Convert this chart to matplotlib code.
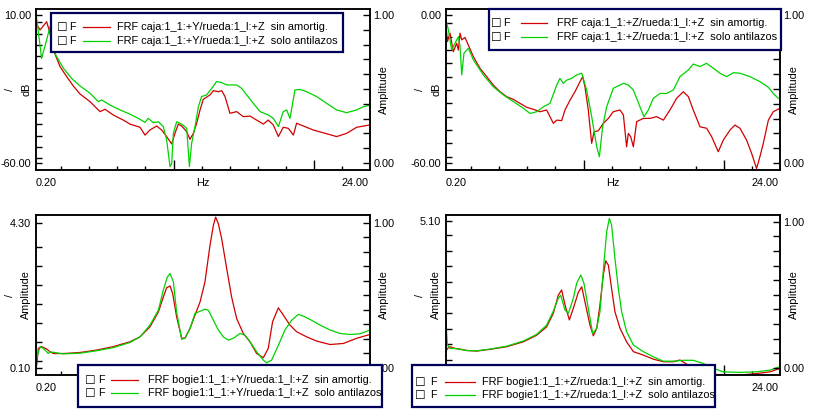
import numpy as np
import matplotlib
matplotlib.use('Agg')
import matplotlib.pyplot as plt
from matplotlib.patches import Rectangle
from matplotlib.lines import Line2D
from matplotlib.ticker import NullFormatter

plt.rcParams['font.family'] = ['Liberation Sans', 'DejaVu Sans']
plt.rcParams['font.size'] = 7.8

W, H = 816, 411
RED = '#d00000'
GREEN = '#00d200'
NAVY = '#00005a'

# ---- data (Hz / value) ----
# top-left: caja +Y, dB
tl_f_red = [0.20, 0.49, 0.96, 1.20, 1.44, 1.91, 2.39, 2.86, 3.34, 4.05, 4.76, 5.12, 5.71, 6.42, 6.90,
            7.61, 7.97, 8.32, 8.80, 9.15, 9.51, 9.87, 10.10, 10.34, 10.58, 10.94, 11.17, 11.41, 11.65,
            11.89, 12.12, 12.60, 12.84, 13.19, 13.43, 13.67, 14.02, 14.50, 14.97, 15.45, 15.92, 16.40,
            16.75, 17.11, 17.47, 17.82, 18.18, 18.54, 18.77, 19.25, 19.96, 20.67, 21.62, 22.33, 23.05, 24.00]
tl_db_red = [6.1, 2.9, 6.8, 1.3, -6.6, -14.4, -19.2, -23.6, -27.4, -31.0, -35.7, -34.6, -37.3, -39.7, -41.6,
             -43.1, -46.8, -44.4, -42.5, -44.4, -47.5, -51.0, -46.0, -41.6, -42.5, -45.2, -48.8, -46.0, -41.2,
             -34.9, -29.9, -27.8, -25.8, -26.3, -25.8, -28.6, -36.5, -35.7, -38.1, -37.8, -39.7, -41.6,
             -39.7, -42.0, -47.5, -43.1, -43.6, -46.8, -41.2, -42.5, -44.4, -45.7, -47.5, -46.0, -43.1, -42.0]
tl_f_green = [0.20, 0.60, 0.96, 1.20, 1.44, 1.67, 2.15, 2.74, 3.34, 4.05, 4.64, 4.88, 5.47, 6.19, 6.90,
              7.61, 7.97, 8.20, 8.56, 8.92, 9.27, 9.51, 9.75, 9.87, 9.99, 10.22, 10.58, 10.94, 11.13, 11.29,
              11.53, 11.77, 12.00, 12.36, 12.72, 13.07, 13.43, 13.79, 14.50, 14.85, 15.21, 15.69, 16.16,
              16.75, 17.11, 17.47, 17.82, 18.06, 18.30, 18.65, 19.01, 19.49, 20.20, 20.91, 21.62, 22.33,
              23.05, 23.52, 24.00]
tl_db_green = [10.8, -10.5, -1.8, 4.5, -6.6, -9.7, -15.2, -20.0, -23.6, -27.0, -31.0, -30.2, -32.6, -34.9, -36.9,
               -39.3, -40.8, -38.9, -40.9, -40.5, -42.8, -49.1, -61.7, -60.2, -46.0, -40.5, -41.6, -43.6, -61.7, -50.7,
               -42.8, -33.4, -28.6, -27.8, -24.7, -21.5, -22.0, -23.1, -23.1, -24.7, -27.8, -31.8, -35.7,
               -37.3, -38.9, -42.8, -35.7, -34.9, -38.9, -25.5, -25.2, -26.3, -28.6, -31.8, -34.9, -36.2,
               -34.9, -33.4, -32.7]

# top-right: caja +Z, dB
tr_f_red = [0.20, 0.30, 0.49, 0.72, 0.96, 1.08, 1.20, 1.32, 1.55, 1.79, 2.15, 2.62, 3.10, 3.57, 4.05, 4.52,
            5.00, 5.47, 5.95, 6.42, 6.90, 7.37, 7.85, 8.09, 8.44, 8.68, 9.04, 9.39, 9.75, 9.94, 10.10, 10.34,
            10.58, 10.75, 11.05, 11.41, 11.77, 12.12, 12.60, 12.84, 13.07, 13.19, 13.36, 13.55, 13.79, 14.26,
            14.74, 15.21, 15.69, 16.16, 16.63, 17.11, 17.47, 17.82, 18.30, 18.77, 19.13, 19.60, 19.96, 20.44,
            20.79, 21.15, 21.62, 21.98, 22.33, 22.57, 22.81, 23.17, 23.52, 24.00]
tr_db_red = [-4.1, -10.8, -7.4, -14.9, -11.5, -14.2, -7.4, -10.1, -9.1, -12.2, -16.9, -21.6, -25.0, -28.4, -31.1, -33.1,
             -34.2, -35.8, -37.4, -38.2, -39.2, -38.5, -43.9, -42.6, -42.8, -38.5, -34.5, -31.1, -27.0, -25.0, -29.1, -38.5,
             -52.0, -47.3, -46.9, -43.9, -41.9, -39.2, -38.5, -40.5, -53.4, -48.0, -49.3, -53.4, -43.2, -41.9,
             -41.9, -41.2, -42.6, -38.5, -33.8, -31.1, -33.1, -38.5, -45.3, -45.9, -49.3, -55.4, -50.7, -46.6,
             -44.6, -45.9, -50.7, -56.1, -62.2, -57.4, -52.0, -42.6, -39.2, -37.8]
tr_f_green = [0.20, 0.37, 0.60, 0.84, 1.08, 1.20, 1.32, 1.48, 1.79, 2.15, 2.86, 3.57, 4.29, 5.00, 5.71, 6.19,
              6.66, 7.14, 7.61, 8.09, 8.32, 8.56, 8.80, 9.15, 9.51, 9.87, 10.22, 10.58, 10.94, 11.13, 11.36,
              11.65, 12.12, 12.60, 12.84, 13.19, 13.55, 14.02, 14.31, 14.62, 14.97, 15.45, 15.92, 16.40, 16.87,
              17.47, 17.82, 18.30, 18.77, 19.25, 19.72, 20.20, 20.67, 21.15, 21.86, 22.57, 23.17, 23.52, 23.88]
tr_db_green = [-2.0, -6.1, -14.2, -11.5, -8.8, -12.8, -24.3, -15.5, -13.5, -18.2, -24.3, -29.1, -32.4, -35.1, -37.8, -39.9,
               -39.2, -37.2, -35.8, -28.4, -25.7, -27.7, -26.4, -25.7, -24.3, -23.6, -30.4, -41.2, -53.4, -57.4, -45.3,
               -37.2, -29.7, -28.4, -27.7, -28.4, -30.4, -37.2, -41.2, -38.5, -33.8, -31.8, -31.8, -30.4, -25.0,
               -22.3, -19.9, -20.9, -19.6, -21.6, -23.6, -25.0, -23.4, -23.6, -25.0, -27.0, -29.3, -31.8, -33.8]

# bottom-left: bogie1 +Y, amplitude
bl_f_red = [0.20, 0.25, 0.37, 0.60, 0.96, 1.20, 1.44, 2.15, 3.34, 4.52, 5.71, 6.90, 7.61, 8.32, 8.92, 9.27,
            9.51, 9.75, 9.94, 10.22, 10.58, 10.82, 11.17, 11.53, 11.89, 12.24, 12.60, 12.84, 13.00, 13.19,
            13.43, 13.79, 14.14, 14.50, 14.97, 15.45, 15.92, 16.40, 16.75, 17.06, 17.47, 17.82, 18.30, 18.77,
            19.49, 20.20, 21.15, 22.10, 23.05, 24.00]
bl_amp_red = [0.09, 0.19, 0.67, 0.72, 0.65, 0.57, 0.52, 0.52, 0.55, 0.62, 0.72, 0.86, 1.00, 1.29, 1.72, 2.15,
              2.42, 2.47, 2.25, 1.58, 0.96, 0.97, 1.24, 1.63, 2.01, 2.59, 3.65, 4.22, 4.46, 4.27,
              3.84, 2.97, 2.15, 1.53, 1.10, 0.86, 0.52, 0.40, 0.67, 1.44, 1.84, 1.63, 1.34, 1.15,
              1.00, 0.88, 0.78, 0.81, 0.96, 1.07]
bl_f_green = [0.20, 0.25, 0.49, 0.72, 1.08, 1.20, 2.15, 3.34, 4.52, 5.71, 6.90, 7.61, 8.32, 8.92, 9.27, 9.56,
              9.75, 9.99, 10.22, 10.58, 10.82, 11.17, 11.53, 11.89, 12.24, 12.48, 12.84, 13.19, 13.55, 13.90,
              14.26, 14.74, 15.09, 15.45, 15.92, 16.40, 16.63, 16.99, 17.47, 17.94, 18.42, 18.89, 19.25, 19.84,
              20.44, 21.15, 21.86, 22.57, 23.29, 24.00]
bl_amp_green = [1.39, 0.38, 0.72, 0.67, 0.52, 0.57, 0.51, 0.53, 0.60, 0.69, 0.84, 1.00, 1.34, 1.77, 2.35, 2.73,
                2.83, 2.59, 1.72, 0.93, 0.96, 1.24, 1.68, 1.74, 1.80, 1.77, 1.48, 1.20, 1.00, 0.91,
                0.96, 1.10, 1.05, 0.86, 0.57, 0.33, 0.25, 0.33, 0.76, 1.20, 1.48, 1.65, 1.60, 1.48,
                1.34, 1.20, 1.10, 1.07, 1.09, 1.20]

# bottom-right: bogie1 +Z, amplitude
br_f_red = [0.20, 0.30, 0.49, 0.84, 1.20, 1.67, 2.39, 3.34, 4.52, 5.71, 6.66, 7.37, 7.85, 8.20, 8.44, 8.68,
            8.99, 9.27, 9.63, 9.87, 10.10, 10.46, 10.70, 10.94, 11.17, 11.41, 11.58, 11.77, 12.00, 12.24,
            12.60, 13.07, 13.55, 14.26, 14.97, 15.69, 16.40, 16.87, 17.47, 17.82, 18.77, 19.96, 21.15, 22.33,
            23.29, 24.00]
br_amp_red = [0.57, 0.68, 0.74, 0.68, 0.66, 0.61, 0.59, 0.65, 0.74, 0.91, 1.14, 1.43, 1.90, 2.53, 2.71, 2.19,
              1.67, 2.07, 2.63, 2.82, 2.30, 1.49, 1.12, 1.38, 2.19, 3.23, 3.72, 3.57, 2.76, 1.95,
              1.38, 0.91, 0.57, 0.45, 0.31, 0.22, 0.22, 0.28, 0.10, -0.13, -0.19, -0.24, -0.24, -0.19,
              -0.13, -0.01]
br_f_green = [0.20, 0.30, 0.49, 0.84, 1.20, 1.67, 2.39, 3.34, 4.52, 5.71, 6.66, 7.37, 7.85, 8.20, 8.37, 8.68,
              8.92, 9.27, 9.51, 9.80, 10.03, 10.34, 10.65, 10.94, 11.17, 11.48, 11.65, 11.84, 12.00, 12.24,
              12.48, 12.72, 13.07, 13.55, 14.26, 14.97, 15.69, 16.40, 17.11, 17.82, 18.54, 19.25, 19.96, 21.15,
              22.33, 23.29, 24.00]
br_amp_green = [1.61, 0.80, 0.68, 0.68, 0.65, 0.61, 0.60, 0.66, 0.76, 0.94, 1.17, 1.49, 1.98, 2.42, 2.53, 2.01,
                1.90, 2.42, 2.94, 3.23, 2.94, 2.07, 1.20, 1.38, 1.95, 3.80, 4.73, 5.19, 4.96, 3.80,
                2.76, 1.95, 1.26, 0.80, 0.57, 0.39, 0.24, 0.24, 0.27, 0.27, 0.16, -0.01, -0.13, -0.15,
                -0.13, -0.07, 0.05]

leg_tl = ['FRF caja:1_1:+Y/rueda:1_l:+Z  sin amortig.', 'FRF caja:1_1:+Y/rueda:1_l:+Z  solo antilazos']
leg_tr = ['FRF caja:1_1:+Z/rueda:1_l:+Z  sin amortig.', 'FRF caja:1_1:+Z/rueda:1_l:+Z  solo antilazos']
leg_bl = ['FRF bogie1:1_1:+Y/rueda:1_l:+Z  sin amortig.', 'FRF bogie1:1_1:+Y/rueda:1_l:+Z  solo antilazos']
leg_br = ['FRF bogie1:1_1:+Z/rueda:1_l:+Z  sin amortig.', 'FRF bogie1:1_1:+Z/rueda:1_l:+Z  solo antilazos']

fig = plt.figure(figsize=(W / 100, H / 100), dpi=100)


def fx(x):
    return x / W


def fy(y):
    return 1 - y / H


def panel(box, red, green, ylim, ends, minor, rlim, unit, xlabels):
    l, t, r, b = box
    ax = fig.add_axes([fx(l), fy(b), (r - l) / W, (b - t) / H])
    ax.plot(red[0], red[1], color=RED, lw=0.9)
    ax.plot(green[0], green[1], color=GREEN, lw=0.9)
    ax.set_xlim(0.2, 24)
    ax.set_ylim(*ylim)
    for s in ax.spines.values():
        s.set_linewidth(1.1)

    ax.set_xticks([10, 20])
    ax.set_xticks([2, 4, 6, 8, 12, 14, 16, 18, 22], minor=True)
    ax.xaxis.set_major_formatter(NullFormatter())
    ax.tick_params(axis='x', which='major', direction='in', length=7, width=1)
    ax.tick_params(axis='x', which='minor', direction='in', length=3, width=1)

    ax.set_yticks(ends)
    ax.set_yticklabels(['%.2f' % v for v in ends])
    ax.set_yticks(minor, minor=True)
    ax.tick_params(axis='y', which='both', direction='in', length=4.3, width=1, pad=3.5)

    ax2 = ax.twinx()
    ax2.set_ylim(*rlim)
    ax2.set_yticks([0, 1])
    ax2.set_yticklabels(['0.00', '1.00'])
    ax2.set_yticks(np.arange(0.1, 0.95, 0.1), minor=True)
    ax2.tick_params(axis='y', which='both', direction='in', length=5, width=1, pad=2.5)
    for s in ax2.spines.values():
        s.set_linewidth(1.1)

    # x labels (the ones hidden by the legend box are left out)
    yl = b + 13
    if '0.20' in xlabels:
        fig.text(fx(l), fy(yl), '0.20', ha='left', va='center')
    if 'Hz' in xlabels:
        fig.text(fx((l + r) / 2), fy(yl), 'Hz', ha='center', va='center')
    if '24.00' in xlabels:
        fig.text(fx(r - 1), fy(yl), '24.00', ha='right', va='center')

    # axis titles
    yc = (t + b) / 2
    fig.text(fx(l - 26), fy(yc), '/', rotation=90, ha='center', va='center')
    fig.text(fx(l - 10), fy(yc), unit, rotation=90, ha='center', va='center')
    fig.text(fx(r + 14), fy(yc), 'Amplitude', rotation=90, ha='center', va='center')
    return ax


def legend(x0, y0, x1, y1, rows, xs, labels):
    fig.add_artist(Rectangle((fx(x0), fy(y1)), (x1 - x0) / W, (y1 - y0) / H,
                             transform=fig.transFigure, facecolor='white',
                             edgecolor=NAVY, lw=1.6, zorder=5))
    chk, fpos, lx0, lx1, tx = xs
    for ry, col, lab in zip(rows, [RED, GREEN], labels):
        fig.text(fx(chk), fy(ry), '\u2610', family=['DejaVu Sans'], fontsize=8.5,
                 ha='left', va='center', zorder=6)
        fig.text(fx(fpos), fy(ry), 'F', ha='left', va='center', zorder=6)
        fig.add_artist(Line2D([fx(lx0), fx(lx1)], [fy(ry), fy(ry)], color=col, lw=0.9,
                              transform=fig.transFigure, zorder=6))
        fig.text(fx(tx), fy(ry), lab, ha='left', va='center', fontsize=7.95, zorder=6)


panel((36, 9, 370, 170), (tl_f_red, tl_db_red), (tl_f_green, tl_db_green),
      (-63.3, 12.8), [-60, 10], np.linspace(-57.8, 6.55, 13), (-0.047, 1.041), 'dB',
      ['0.20', 'Hz', '24.00'])
panel((446, 9, 780, 170), (tr_f_red, tr_db_red), (tr_f_green, tr_db_green),
      (-62.8, 2.4), [-60, 0], np.linspace(-57.4, -3.4, 11), (-0.047, 1.041), 'dB',
      ['0.20', 'Hz', '24.00'])
panel((36, 215, 370, 375), (bl_f_red, bl_amp_red), (bl_f_green, bl_amp_green),
      (-0.10, 4.52), [0.10, 4.30], np.arange(0.31, 4.0, 0.55), (-0.048, 1.053), 'Amplitude',
      ['0.20'])
panel((446, 215, 780, 375), (br_f_red, br_amp_red), (br_f_green, br_amp_green),
      (-0.24, 5.31), [0.0, 5.10], np.arange(4.61, 0.2, -0.54), (-0.05, 1.046), 'Amplitude',
      ['24.00'])

legend(51, 13, 343, 52, [27, 41], (57, 69, 83, 110, 117), leg_tl)
legend(489, 9, 781, 50, [23, 37], (491, 503, 521, 547, 557), leg_tr)
legend(78, 365, 382, 407, [380, 393], (85, 98, 111, 138, 148), leg_bl)
legend(412, 365, 715, 407, [382, 395], (415, 430, 445, 475, 482), leg_br)

fig.savefig('out.png', dpi=100)
